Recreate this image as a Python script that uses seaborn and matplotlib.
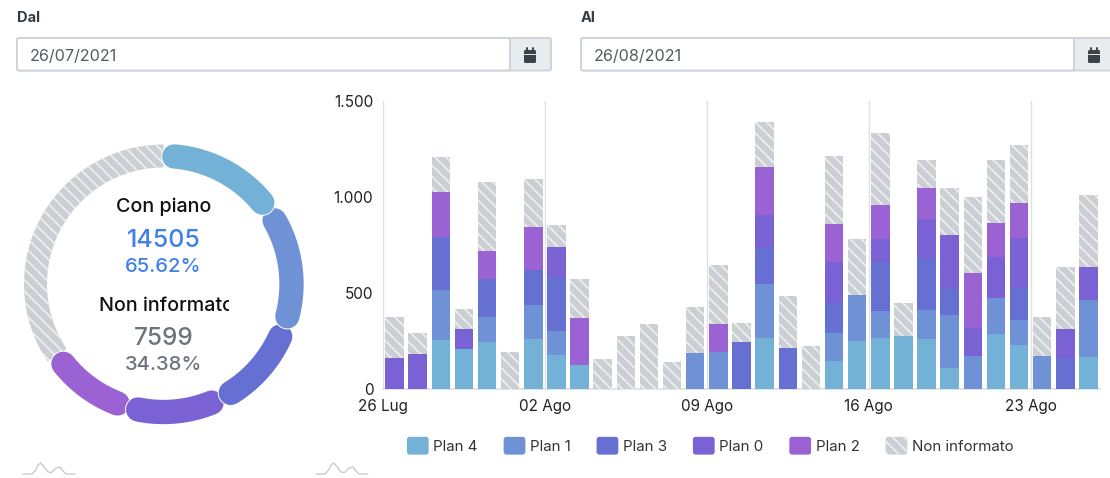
#!/usr/bin/env python3
import numpy as np
import pandas as pd
import matplotlib
matplotlib.use("Agg")
import matplotlib.pyplot as plt
import seaborn as sns
from matplotlib.legend_handler import HandlerPatch
from matplotlib.patches import FancyBboxPatch, Patch, Rectangle, Wedge

# ------------------------------- data ----------------------------------
days = list(range(31))
week_ticks = [0, 7, 14, 21, 28]
week_labels = ["26 Lug", "02 Ago", "09 Ago", "16 Ago", "23 Ago"]

plan_4 = [0, 0, 255, 208, 243, 0, 260, 179, 123, 0, 0, 0, 0, 0, 0, 0, 264, 0, 0, 148, 248, 266, 278, 262, 111, 0, 286, 231, 0, 0, 167]
plan_1 = [0, 0, 261, 0, 134, 0, 176, 125, 0, 0, 0, 0, 0, 189, 194, 0, 281, 0, 0, 142, 240, 140, 0, 149, 274, 174, 186, 127, 174, 0, 297]
plan_3 = [0, 0, 277, 0, 198, 0, 184, 278, 0, 0, 0, 0, 0, 0, 0, 246, 188, 214, 0, 156, 0, 255, 0, 269, 134, 0, 0, 166, 0, 160, 0]
plan_0 = [160, 182, 0, 106, 0, 0, 0, 159, 0, 0, 0, 0, 0, 0, 0, 0, 172, 0, 0, 217, 0, 120, 0, 204, 283, 144, 217, 264, 0, 154, 173]
plan_2 = [0, 0, 231, 0, 144, 0, 224, 0, 247, 0, 0, 0, 0, 0, 143, 0, 251, 0, 0, 198, 0, 177, 0, 165, 0, 284, 174, 181, 0, 0, 0]
non_informato = [213, 110, 186, 101, 357, 194, 250, 111, 201, 156, 276, 339, 139, 238, 309, 99, 236, 270, 222, 354, 295, 377, 168, 145, 245, 396, 331, 302, 201, 321, 373]

series_names = ["Plan 4", "Plan 1", "Plan 3", "Plan 0", "Plan 2", "Non informato"]
series_values = [plan_4, plan_1, plan_3, plan_0, plan_2, non_informato]

# totals per plan on the ring, same order as series_names
ring_values = [3400, 3320, 2680, 2650, 2455, 7599]

# ----------------------------- style -----------------------------------
COLORS = ["#74b1d6", "#6f92d6", "#666fd2", "#7b62d4", "#9b62d4", "#cbcfd3"]
HATCH = "\\\\\\"
HATCH_COLOR = "#eceeef"
GRID = "#dfe0e3"

sns.set_theme(style="white")
plt.rcParams["font.family"] = ["Inter", "DejaVu Sans"]
plt.rcParams["hatch.linewidth"] = 1.3

fig = plt.figure(figsize=(11.10, 4.78), dpi=100)

# page layer in pixel coordinates for the form, ring and icons
page = fig.add_axes([0, 0, 1, 1])
page.set_xlim(0, 1110)
page.set_ylim(478, 0)
page.axis("off")


# --------------------------- helpers -----------------------------------
def date_input(x0, x1, label, value):
    page.text(x0, 17.5, label, fontsize=10.5, fontweight="bold", color="#333a40", va="center")
    page.add_patch(FancyBboxPatch((x0, 38), x1 + 41 - x0, 32.5, boxstyle="round,pad=0,rounding_size=2",
                                  fc="#e9ecef", ec="#ced4da", lw=1.4))
    page.add_patch(FancyBboxPatch((x0, 38), x1 - x0, 32.5, boxstyle="round,pad=0,rounding_size=2",
                                  fc="white", ec="#ced4da", lw=1.4))
    page.text(x0 + 13, 56.5, value, fontsize=11.6, color="#555c63", va="center")
    # calendar glyph
    cx = x1 + 20
    page.add_patch(FancyBboxPatch((cx - 6, 50), 12, 13, boxstyle="round,pad=0,rounding_size=1.5", fc="#3d4247", ec="none"))
    page.plot([cx - 6, cx + 6], [53.5, 53.5], color="#e9ecef", lw=0.7)
    page.plot([cx - 3, cx - 3], [47.5, 50], color="#3d4247", lw=1.4)
    page.plot([cx + 3, cx + 3], [47.5, 50], color="#3d4247", lw=1.4)


def sparkline(x0):
    xs = x0 + np.array([0, 9, 12, 15, 17.5, 20.5, 25, 28.5, 33, 37, 40, 43, 52])
    ys = 474 + np.array([0, 0, -3, -9, -11, -8, -2, -1.5, -6, -7, -3, 0, 0])
    page.plot(xs, ys, color="#c4c7ca", lw=0.9)


def ring_arc(a0, a1, color):
    theta = np.radians(np.linspace(a0, a1, 80))
    xs = RING_X + RING_R * np.sin(theta)
    ys = RING_Y - RING_R * np.cos(theta)
    page.plot(xs, ys, color="white", lw=RING_W + 1.4, solid_capstyle="round")
    page.plot(xs, ys, color=color, lw=RING_W, solid_capstyle="round")


def rounded_handle(legend, orig_handle, xdescent, ydescent, width, height, fontsize):
    return FancyBboxPatch((-xdescent, -ydescent), width, height, boxstyle="round,pad=0,rounding_size=2", mutation_aspect=1)


# ----------------------------- form ------------------------------------
date_input(17, 510, "Dal", "26/07/2021")
date_input(581, 1074, "Al", "26/08/2021")
sparkline(23)
sparkline(316)

# ----------------------------- ring ------------------------------------
RING_X, RING_Y, RING_R = 163.5, 284, 128
RING_W = 17.5  # points
CAP_DEG = 4.8

edges = np.cumsum([0] + ring_values) / sum(ring_values) * 360

page.add_patch(Wedge((RING_X, RING_Y), RING_R + 11.5, edges[5] - 90, 270, width=23,
                     fc=COLORS[5], ec=HATCH_COLOR, lw=0, hatch=HATCH))
for i in range(4, -1, -1):
    ring_arc(edges[i] + CAP_DEG, edges[i + 1] - CAP_DEG, COLORS[i])

center_labels = [
    ("Con piano", 207, 14.2, "#111111"),
    ("14505", 240, 18, "#3f80ea"),
    ("65.62%", 267, 14.5, "#3f80ea"),
    ("7599", 338.5, 17.5, "#6c757d"),
    ("34.38%", 365.5, 14.5, "#6c757d"),
]
for txt, y, size, color in center_labels:
    page.text(RING_X, y, txt, fontsize=size, color=color, fontweight="medium", ha="center", va="center")
cut = page.text(99, 306, "Non informato", fontsize=14.2, color="#111111", fontweight="medium", ha="left", va="center")
cut.set_clip_path(Rectangle((90, 290), 139, 30, transform=page.transData))
cut.set_clip_on(True)

# ----------------------------- bars ------------------------------------
ax = fig.add_axes([383 / 1110, (478 - 389) / 478, 717 / 1110, 288 / 478])
ax.patch.set_alpha(0)

df = pd.DataFrame(dict(zip(series_names, series_values)), index=days)
df.index.name = "day"

bottom = np.zeros(len(days))
for name, color in zip(series_names, COLORS):
    hatched = name == "Non informato"
    sns.barplot(
        x=df.index, y=df[name], ax=ax, color=color, bottom=bottom, width=0.8, saturation=1,
        linewidth=0, edgecolor=HATCH_COLOR if hatched else color, hatch=HATCH if hatched else None,
        errorbar=None, zorder=3,
    )
    bottom = bottom + df[name].to_numpy()

ax.set_xlim(-0.5, 30.5)
ax.set_ylim(0, 1500)
ax.set_xlabel("")
ax.set_ylabel("")

# ticks sit on the left edge of each day band
ax.set_xticks(np.array(week_ticks) - 0.5)
ax.set_xticklabels(week_labels, fontsize=11, color="#222222")
ax.set_yticks([0, 500, 1000, 1500])
ax.set_yticklabels(["0", "500", "1.000", "1.500"], fontsize=11, color="#222222")
ax.tick_params(axis="x", length=0, pad=7)
ax.tick_params(axis="y", length=0, pad=7)
ax.grid(axis="x", color=GRID, lw=1, zorder=0)
ax.grid(axis="y", visible=False)
sns.despine(ax=ax, left=True, top=True, right=True)
ax.spines["bottom"].set_color(GRID)

handles = [
    Patch(facecolor=c, edgecolor=HATCH_COLOR if n == "Non informato" else c, linewidth=0,
          hatch=HATCH if n == "Non informato" else None)
    for n, c in zip(series_names, COLORS)
]
ax.legend(
    handles, series_names, ncol=6, frameon=False, loc="center left",
    bbox_to_anchor=(0.025, -0.197),
    fontsize=10.8, handlelength=1.45, handleheight=1.45, handletextpad=0.3, columnspacing=1.73,
    labelcolor="#333333", borderaxespad=0,
    handler_map={Patch: HandlerPatch(patch_func=rounded_handle)},
)

plt.savefig("out.png", dpi=100)
